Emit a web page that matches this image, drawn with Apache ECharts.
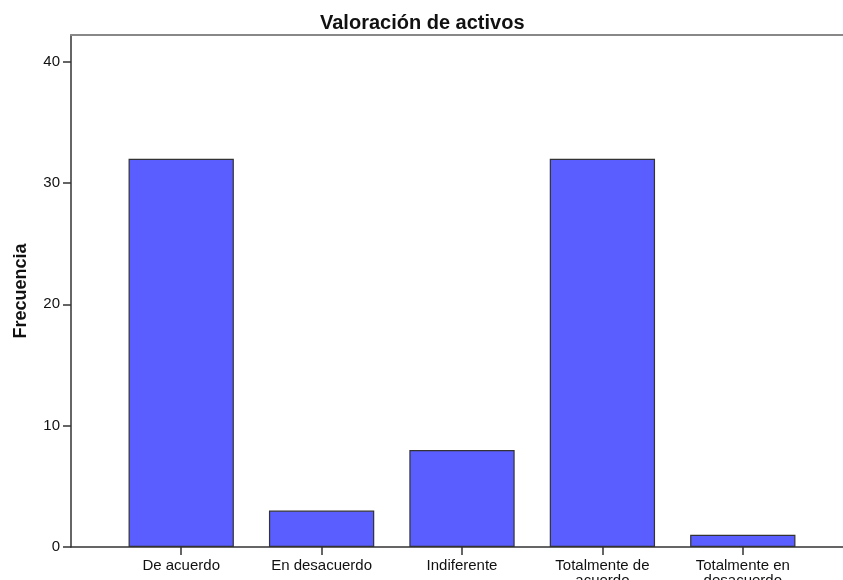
<!DOCTYPE html>
<html>
<head>
<meta charset="utf-8">
<script src="https://cdn.jsdelivr.net/npm/echarts@6/dist/echarts.min.js"></script>
<style>
  html, body { margin: 0; padding: 0; background: #fff; }
  #chart { width: 843px; height: 580px; }
</style>
</head>
<body>
<div id="chart"></div>
<script>
  // Valoración de activos - frecuencias
  var categories = ['De acuerdo', 'En desacuerdo', 'Indiferente', 'Totalmente de\nacuerdo', 'Totalmente en\ndesacuerdo']
  var frecuencias = [32, 3, 8, 32, 1]
  var yTicks = [0, 10, 20, 30, 40]
  var yMax = 42.2

  var chart = echarts.init(document.getElementById('chart'))
  chart.setOption({
    animation: false,
    textStyle: { fontFamily: 'Liberation Sans, Arial, sans-serif' },
    title: {
      text: 'Valoración de activos',
      left: 315,
      top: 8,
      textStyle: { fontSize: 20, fontWeight: 'bold', color: '#111' }
    },
    grid: [
      { left: 71, right: 0, top: 35, bottom: 33, outerBoundsMode: 'none' },
      { left: 111, right: 30, top: 35, bottom: 33, outerBoundsMode: 'none' }
    ],
    xAxis: [
      {
        // marco: línea inferior
        gridIndex: 0, type: 'value', min: 0, max: 1, position: 'bottom',
        axisLine: { show: true, lineStyle: { color: '#333', width: 1.5 } },
        axisTick: { show: false }, axisLabel: { show: false }, splitLine: { show: false }
      },
      {
        // marco: línea superior
        gridIndex: 0, type: 'value', min: 0, max: 1, position: 'top',
        axisLine: { show: true, lineStyle: { color: '#888', width: 2 } },
        axisTick: { show: false }, axisLabel: { show: false }, splitLine: { show: false }
      },
      {
        gridIndex: 1, type: 'category', data: categories, position: 'bottom',
        axisLine: { show: false },
        axisTick: { show: true, alignWithLabel: true, length: 8, lineStyle: { color: '#333', width: 1.5 } },
        axisLabel: { color: '#111', fontSize: 15, margin: 11, lineHeight: 15, interval: 0 }
      }
    ],
    yAxis: [
      {
        gridIndex: 0, type: 'value', min: 0, max: yMax,
        name: 'Frecuencia', nameLocation: 'middle', nameGap: 41,
        nameTextStyle: { fontSize: 18, fontWeight: 'bold', color: '#111' },
        axisLine: { show: true, lineStyle: { color: '#333', width: 1.5 } },
        axisTick: { show: true, length: 8, customValues: yTicks, lineStyle: { color: '#333', width: 1.5 } },
        axisLabel: { color: '#111', fontSize: 15, margin: 11, customValues: yTicks },
        splitLine: { show: false }
      },
      {
        gridIndex: 1, type: 'value', min: 0, max: yMax, show: false
      }
    ],
    series: [
      {
        name: 'Frecuencia',
        type: 'bar',
        xAxisIndex: 2,
        yAxisIndex: 1,
        data: frecuencias,
        barWidth: '75%',
        itemStyle: { color: '#5a5eff', borderColor: '#333', borderWidth: 1.2 }
      }
    ]
  })
</script>
</body>
</html>
